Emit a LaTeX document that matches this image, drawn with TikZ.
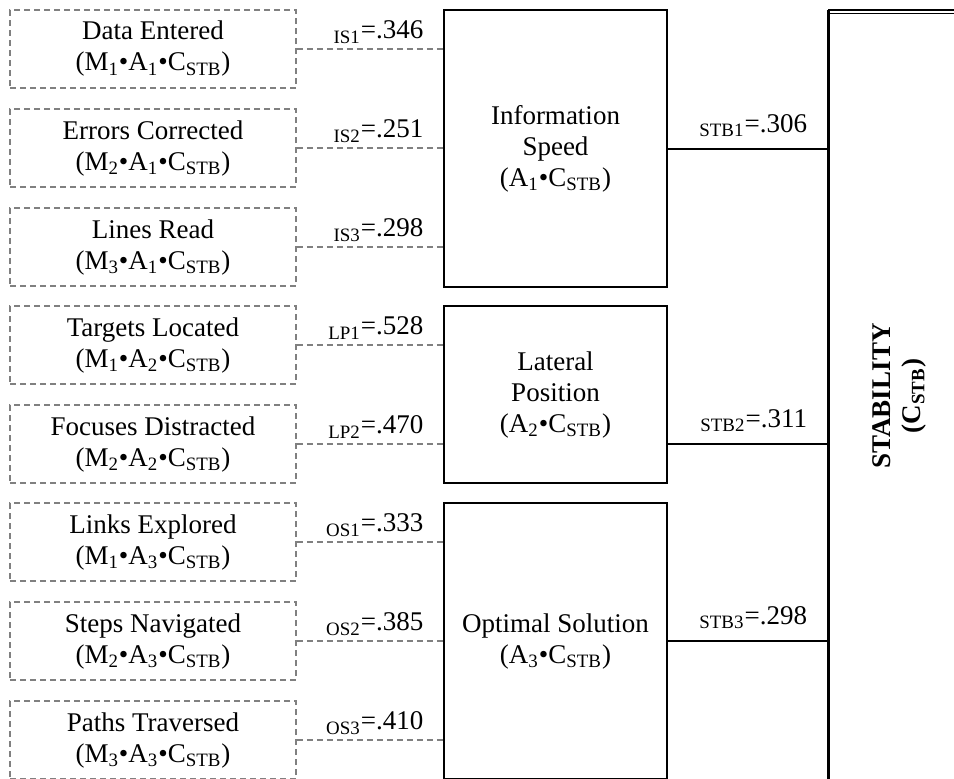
\documentclass[tikz,border=0pt]{standalone}
\usepackage{fontspec}
\setmainfont{Liberation Serif}
\usetikzlibrary{positioning}
\newcommand{\sub}[1]{\textsubscript{#1}}
\newcommand{\cstb}{C\sub{STB}}
\tikzset{
  mbox/.style={draw=gray, densely dashed, line width=0.75pt, minimum width=143pt, minimum height=39pt, align=center, inner sep=2pt},
  abox/.style={draw, line width=1pt, minimum width=111.5pt, align=center},
  dline/.style={draw=gray, densely dashed, line width=0.75pt},
  sline/.style={draw, line width=1pt},
  lbl/.style={pos=1, anchor=south east, inner sep=2.5pt, xshift=-7pt},
  slbl/.style={pos=1, anchor=south east, inner sep=2.5pt, xshift=-7.5pt, yshift=3pt},
}
\begin{document}
\begin{tikzpicture}[x=0.5pt, y=-0.5pt, font=\fontsize{13.5}{15.5}\selectfont]
    \clip (0,0) rectangle (954,778);
    \useasboundingbox (0,0) rectangle (954,778);
    % measures
    \node[mbox] (de) at (153,49) {Data Entered\\(M\sub{1}•A\sub{1}•\cstb)};
    \node[mbox] (ec) at (153,148) {Errors Corrected\\(M\sub{2}•A\sub{1}•\cstb)};
    \node[mbox] (lr) at (153,247) {Lines Read\\(M\sub{3}•A\sub{1}•\cstb)};
    \node[mbox] (tl) at (153,345) {Targets Located\\(M\sub{1}•A\sub{2}•\cstb)};
    \node[mbox] (fd) at (153,444) {Focuses Distracted\\(M\sub{2}•A\sub{2}•\cstb)};
    \node[mbox] (le) at (153,542) {Links Explored\\(M\sub{1}•A\sub{3}•\cstb)};
    \node[mbox] (sn) at (153,641) {Steps Navigated\\(M\sub{2}•A\sub{3}•\cstb)};
    \node[mbox] (pt) at (153,740) {Paths Traversed\\(M\sub{3}•A\sub{3}•\cstb)};
    % attributes
    \node[abox, minimum height=138.5pt] (is) at (555.5,148.5) {Information\\Speed\\(A\sub{1}•\cstb)};
    \node[abox, minimum height=88.5pt] (lp) at (555.5,394.5) {Lateral\\Position\\(A\sub{2}•\cstb)};
    \node[abox, minimum height=138pt] (os) at (555.5,641) {Optimal Solution\\(A\sub{3}•\cstb)};
    % construct
    \coordinate (stl) at (828,10);
    \draw[line width=1.5pt] (stl) -- (828,790);
    \draw[line width=0.6pt] (stl) -- (960,10);
    \draw[line width=0.6pt] (828,13.5) -- (960,13.5);
    \node[rotate=90, align=center, font=\fontsize{13.5}{15}\selectfont\bfseries] (stab) at (899,396) {STABILITY\\(\cstb)};
    % measure to attribute
    \draw[dline] (de.east) -- (de.east -| is.west) node[lbl] {\sub{IS1}=.346};
    \draw[dline] (ec.east) -- (ec.east -| is.west) node[lbl] {\sub{IS2}=.251};
    \draw[dline] (lr.east) -- (lr.east -| is.west) node[lbl] {\sub{IS3}=.298};
    \draw[dline] (tl.east) -- (tl.east -| lp.west) node[lbl] {\sub{LP1}=.528};
    \draw[dline] (fd.east) -- (fd.east -| lp.west) node[lbl] {\sub{LP2}=.470};
    \draw[dline] (le.east) -- (le.east -| os.west) node[lbl] {\sub{OS1}=.333};
    \draw[dline] (sn.east) -- (sn.east -| os.west) node[lbl] {\sub{OS2}=.385};
    \draw[dline] (pt.east) -- (pt.east -| os.west) node[lbl] {\sub{OS3}=.410};
    % attribute to construct
    \draw[sline] (is.east) -- (is.east -| stl) node[slbl] {\sub{STB1}=.306};
    \draw[sline] (lp.east |- fd.east) -- (stl |- fd.east) node[slbl] {\sub{STB2}=.311};
    \draw[sline] (os.east) -- (os.east -| stl) node[slbl] {\sub{STB3}=.298};
\end{tikzpicture}
\end{document}
